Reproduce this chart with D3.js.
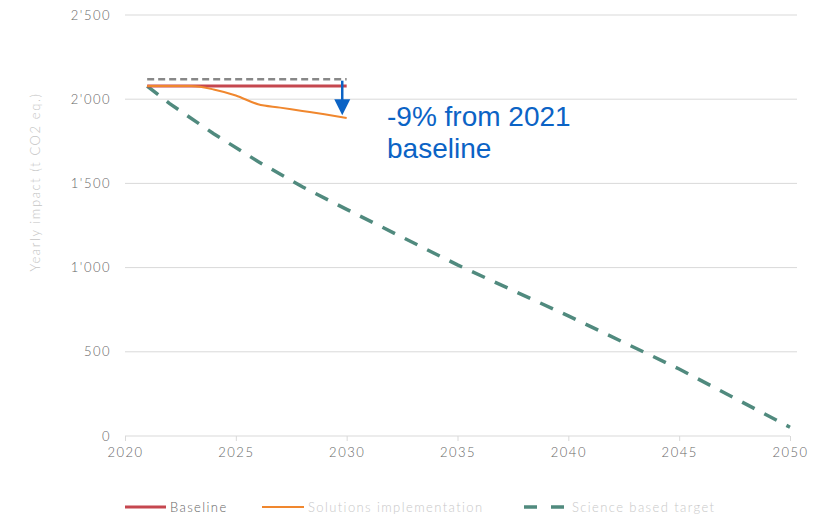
<!DOCTYPE html>
<html><head><meta charset="utf-8">
<script src="https://cdn.jsdelivr.net/npm/d3@7"></script>
<style>body{margin:0;background:#fff}svg{font-family:Lato,"Open Sans",sans-serif}</style>
</head><body><svg id="c" width="825" height="516"></svg>
<script>
const yTicks = [0, 500, 1000, 1500, 2000, 2500];
const yTickLabels = ["0", "500", "1'000", "1'500", "2'000", "2'500"];
const xTicks = [2020, 2025, 2030, 2035, 2040, 2045, 2050];
const baselineYears = [2021, 2030];
const baselineValues = [2078, 2078];
const refDashedYears = [2021, 2030];
const refDashedValues = [2118, 2118];
const solutionYears = [2021, 2022, 2023, 2024, 2025, 2026, 2027, 2028, 2029, 2030];
const solutionValues = [2078, 2079, 2078, 2058, 2022, 1970, 1950, 1930, 1910, 1888];
const sbtYears = [2021, 2022, 2024, 2026, 2028, 2030, 2035, 2040, 2045, 2050];
const sbtValues = [2078, 1975, 1795, 1630, 1480, 1346, 1016, 713, 398, 52];
const arrowYears = [2029.8];
const arrowFrom = [2110], arrowTo = [1905];
const annotation = ["-9% from 2021", "baseline"];
const legendNames = ["Baseline", "Solutions implementation", "Science based target"];

const svg = d3.select("#c");
const x = d3.scaleLinear().domain([2020, 2050]).range([125, 790]);
const y = d3.scaleLinear().domain([0, 2500]).range([436, 15]);

// gridlines
svg.append("g").selectAll("line").data(yTicks.filter(d => d > 0)).join("line")
  .attr("x1", 125).attr("x2", 797).attr("y1", d => y(d)).attr("y2", d => y(d))
  .attr("stroke", "#d9d9d9").attr("stroke-width", 1);

// y labels
svg.append("g").selectAll("text").data(yTicks).join("text")
  .attr("x", 111).attr("y", d => y(d)).attr("dy", "0.35em").attr("text-anchor", "end")
  .attr("font-size", 13).attr("fill", "#666").attr("font-weight", 300).attr("letter-spacing", 1.5)
  .text((d, i) => yTickLabels[i]);

// x axis
const xa = svg.append("g").attr("transform", "translate(0,436)")
  .call(d3.axisBottom(x).tickValues(xTicks).tickFormat(d3.format("d")).tickSize(5).tickPadding(7));
xa.select(".domain").attr("stroke", "#d9d9d9").attr("d", "M125,0H790");
xa.selectAll(".tick line").attr("stroke", "#d9d9d9");
xa.selectAll(".tick text").attr("font-size", 13).attr("fill", "#666").attr("font-weight", 300)
  .attr("letter-spacing", 1.5).attr("font-family", "Lato,'Open Sans',sans-serif");

// y title
svg.append("text").attr("transform", "translate(40,182) rotate(-90)").attr("text-anchor", "middle")
  .attr("font-size", 13).attr("fill", "#c4c4c4").attr("font-weight", 300).attr("letter-spacing", 1.6)
  .text("Yearly impact (t CO2 eq.)");

const line = d3.line().x(d => x(d[0])).y(d => y(d[1]));

svg.append("path").datum(sbtYears.map((d, i) => [d, sbtValues[i]]))
  .attr("d", line).attr("fill", "none").attr("stroke", "#508a7e").attr("stroke-width", 3.5)
  .attr("stroke-dasharray", "14,11");

svg.append("path").datum(refDashedYears.map((d, i) => [d, refDashedValues[i]]))
  .attr("d", line).attr("fill", "none").attr("stroke", "#888").attr("stroke-width", 2.5)
  .attr("stroke-dasharray", "7,4");

svg.append("path").datum(baselineYears.map((d, i) => [d, baselineValues[i]]))
  .attr("d", line).attr("fill", "none").attr("stroke", "#c5474f").attr("stroke-width", 3);

svg.append("path").datum(solutionYears.map((d, i) => [d, solutionValues[i]]))
  .attr("d", d3.line().x(d => x(d[0])).y(d => y(d[1])).curve(d3.curveMonotoneX))
  .attr("fill", "none").attr("stroke", "#f0872e").attr("stroke-width", 2);

// arrow
const ax = x(arrowYears[0]);
svg.append("line").attr("x1", ax).attr("x2", ax).attr("y1", y(arrowFrom[0])).attr("y2", y(arrowTo[0]) - 14)
  .attr("stroke", "#0b63c5").attr("stroke-width", 2.5);
svg.append("path").attr("d", `M${ax - 8},${y(arrowTo[0]) - 16}L${ax + 8},${y(arrowTo[0]) - 16}L${ax},${y(arrowTo[0])}Z`)
  .attr("fill", "#0b63c5");

// annotation
svg.append("g").selectAll("text").data(annotation).join("text")
  .attr("x", 387).attr("y", (d, i) => 126 + i * 32)
  .attr("font-size", 28).attr("fill", "#0b63c5").attr("font-family", "'Liberation Sans',Arial,sans-serif")
  .text(d => d);

// legend
const lg = svg.append("g");
lg.append("line").attr("x1", 125).attr("x2", 166).attr("y1", 507).attr("y2", 507).attr("stroke", "#c5474f").attr("stroke-width", 3);
lg.append("line").attr("x1", 262).attr("x2", 304).attr("y1", 507).attr("y2", 507).attr("stroke", "#f0872e").attr("stroke-width", 2);
lg.append("line").attr("x1", 524).attr("x2", 564).attr("y1", 507).attr("y2", 507).attr("stroke", "#508a7e").attr("stroke-width", 3.5).attr("stroke-dasharray", "13,14");
const lx = [170, 308, 572];
const lc = ["#666", "#c8c8c8", "#c8c8c8"];
lg.selectAll("text").data(legendNames).join("text")
  .attr("x", (d, i) => lx[i]).attr("y", 507).attr("dy", "0.35em")
  .attr("font-size", 13).attr("font-weight", 300).attr("letter-spacing", 1.4)
  .attr("fill", (d, i) => lc[i]).text(d => d);
</script></body></html>
